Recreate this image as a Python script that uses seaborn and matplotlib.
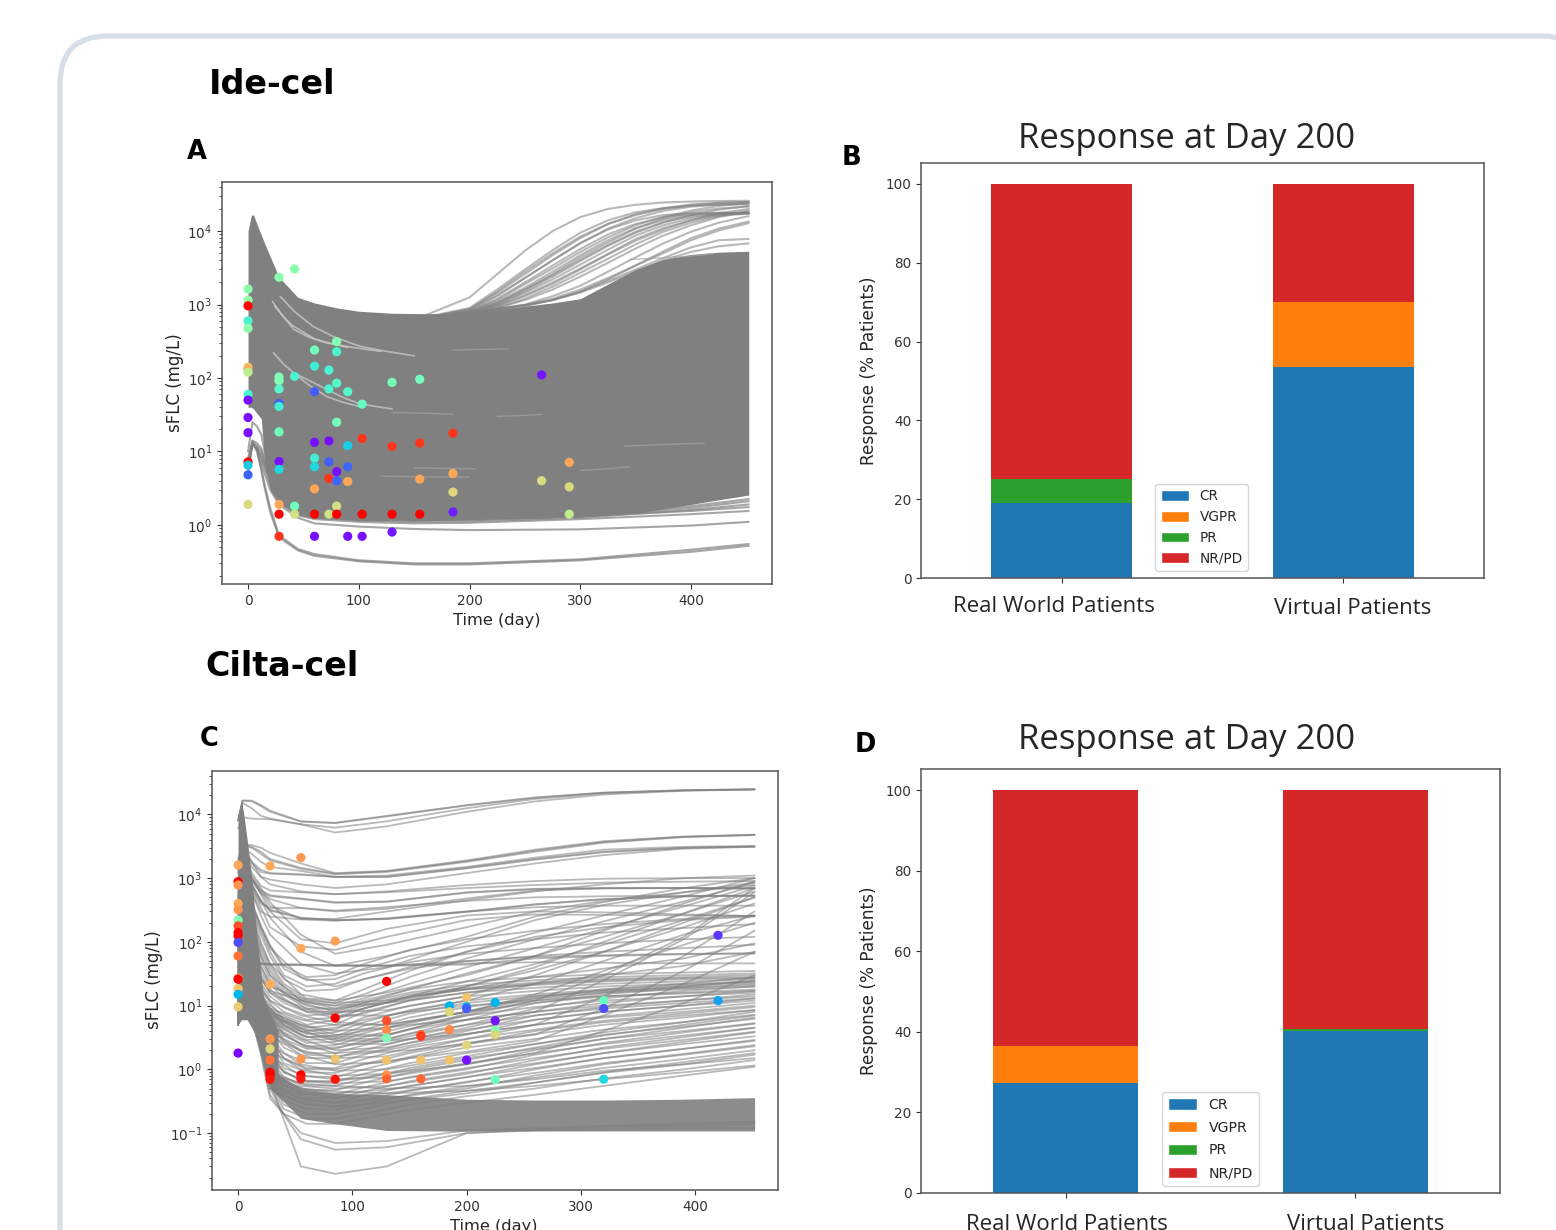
import numpy as np
import pandas as pd
import matplotlib
matplotlib.use('Agg')
import matplotlib.pyplot as plt
import seaborn as sns
from matplotlib.patches import FancyBboxPatch, Patch

W, H = 1556, 1230
GRAY = '#808080'

# ---- Response bars (% patients) ----
BAR_GROUPS = ['Real World Patients', 'Virtual Patients']
BAR_NAMES = ['CR', 'VGPR', 'PR', 'NR/PD']
BAR_COLORS = ['#1f77b4', '#ff7f0e', '#2ca02c', '#d62728']
B_CR = [19.0, 53.5]
B_VGPR = [0.0, 16.5]
B_PR = [6.0, 0.0]
B_NR = [75.0, 30.0]
D_CR = [27.3, 40.3]
D_VGPR = [9.1, 0.0]
D_PR = [0.0, 0.4]
D_NR = [63.6, 59.3]

# ---- Panel A: envelope of the dense bundle ----
A_BAND_T = [0, 3, 5, 8, 12, 15, 20, 28, 45, 60, 80, 100, 130, 160, 200, 250, 275, 300, 325, 350, 375, 400, 425, 452]
A_BAND_UP = [10000, 16500, 16500, 12500, 8800, 6800, 4500, 2350, 1250, 1050, 900, 810, 760, 750, 760, 950, 1050, 1200, 1900, 3000, 4100, 4800, 5150, 5300]
A_BAND_LO = [40, 40, 38, 33, 28, 7, 3, 2, 1.37, 1.23, 1.2, 1.15, 1.15, 1.15, 1.2, 1.22, 1.25, 1.28, 1.36, 1.45, 1.65, 1.9, 2.2, 2.55]

# curves that climb out of the bundle
A_RISE_T = [150, 200, 225, 250, 275, 300, 325, 350, 375, 400, 425, 452]
A_RISE = [
    [620, 1250, 2600, 5400, 10000, 15500, 20000, 22800, 24500, 25200, 25600, 25800],
    [620, 850, 1500, 2800, 5000, 8400, 12500, 16500, 20000, 22500, 24000, 25000],
    [610, 800, 1150, 1900, 3100, 5200, 8200, 12000, 15500, 19000, 22000, 24000],
    [600, 760, 1000, 1500, 2400, 3900, 6300, 9500, 13000, 16500, 19500, 22000],
    [600, 750, 950, 1300, 1900, 3000, 4800, 7400, 10500, 14000, 17500, 20000],
    [600, 740, 900, 1150, 1600, 2400, 3700, 5800, 8700, 12000, 15500, 18500],
    [600, 740, 880, 1000, 1300, 1800, 2800, 4400, 6800, 9800, 13000, 16000],
    [600, 740, 860, 950, 1150, 1500, 2200, 3400, 5300, 8000, 10800, 13500],
    [610, 820, 1300, 2300, 4000, 6900, 10500, 14000, 16500, 17500, 17700, 17800],
    [610, 800, 1200, 2000, 3400, 5700, 9000, 12500, 15500, 17000, 17600, 17700],
    [610, 790, 1100, 1700, 2800, 4700, 7500, 11000, 14200, 16500, 17300, 17600],
    [600, 770, 1050, 1600, 2500, 4100, 6500, 9800, 13300, 15800, 17000, 17500],
    [600, 760, 1000, 1450, 2200, 3500, 5600, 8700, 12000, 15000, 16800, 17400],
    [600, 760, 950, 1350, 2000, 3100, 4900, 7800, 11000, 14000, 16300, 17200],
    [620, 900, 1600, 3000, 5500, 9500, 14000, 18000, 20500, 22000, 22800, 23200],
    [620, 870, 1450, 2600, 4700, 8000, 12500, 17000, 20500, 23000, 24200, 24800],
    [610, 850, 1350, 2300, 4000, 6800, 10800, 15000, 18800, 21500, 23000, 23800],
    [600, 780, 1050, 1600, 2600, 4400, 7000, 10800, 14800, 18000, 20300, 21500],
    [600, 750, 900, 1200, 1750, 2700, 4200, 6600, 9800, 13000, 16000, 19000],
    [600, 740, 860, 980, 1200, 1600, 2300, 3400, 5000, 7500, 10200, 12800],
    [600, 740, 860, 980, 1150, 1500, 2100, 3000, 4300, 6000, 7500, 7800],
    [600, 740, 860, 980, 1150, 1450, 2000, 2800, 4000, 5200, 6200, 6800],
]

# thin bundle under the dense band
A_LOW_T = [0, 4, 8, 12, 15, 20, 28, 45, 60, 100, 150, 200, 300, 400, 452]
A_LOW = [
    [5, 14, 11, 6, 3.5, 1.7, 0.72, 0.47, 0.4, 0.33, 0.3, 0.3, 0.34, 0.46, 0.55],
    [5, 13, 10, 5.5, 3.2, 1.5, 0.68, 0.45, 0.38, 0.32, 0.29, 0.29, 0.33, 0.43, 0.52],
    [6, 13, 11, 7, 5, 3, 1.9, 1.25, 1.05, 0.95, 0.88, 0.85, 0.87, 0.98, 1.1],
    [6, 12.5, 11, 8, 6, 3.5, 2, 1.35, 1.2, 1.1, 1.05, 1.07, 1.2, 1.4, 1.55],
    [7, 13, 11, 9, 6.5, 4, 2.2, 1.4, 1.25, 1.15, 1.1, 1.12, 1.25, 1.6, 1.9],
    [7, 13, 12, 10, 7, 4.3, 2.3, 1.45, 1.3, 1.2, 1.15, 1.17, 1.3, 1.7, 2.1],
    [8, 14, 13, 11, 8, 4.8, 2.4, 1.5, 1.35, 1.22, 1.17, 1.2, 1.35, 1.8, 2.25],
    [10, 25, 22, 17, 10, 5, 2.5, 1.45, 1.3, 1.2, 1.15, 1.2, 1.32, 1.55, 1.75],
]

# pale slivers where the bundle opens up
A_GAPS_PALE = [
    ([22, 30, 41, 55, 71, 95, 120], [1100, 750, 460, 360, 300, 260, 230]),
    ([23, 32, 41, 55, 71, 85, 100], [220, 155, 118, 80, 56, 47, 41]),
    ([29, 42, 59, 78, 101, 125, 150], [1290, 800, 500, 360, 270, 230, 200]),
    ([24, 32, 40, 50, 60, 75, 90], [950, 680, 520, 420, 340, 295, 260]),
    ([45, 58, 71, 85, 100, 115, 130], [110, 88, 70, 55, 45, 41, 38]),
]
A_GAPS_DIM = [
    ([130, 165, 185], [34, 33, 32]),
    ([120, 160, 200], [4.6, 4.5, 4.5]),
    ([150, 170, 205], [6, 5.9, 5.8]),
    ([225, 250, 265], [30, 31, 32]),
    ([185, 215, 235], [240, 245, 250]),
    ([340, 375, 412], [11.8, 12.4, 13]),
    ([300, 330, 345], [5.5, 5.9, 6.2]),
    ([345, 395, 420], [4100, 4500, 4900]),
]

# patient observations: day, sFLC, colour position on the rainbow scale
A_DAY = [0, 0, 0, 0, 0, 0, 0, 0, 0, 0, 0, 0, 0, 0, 0, 0,
         28, 28, 28, 28, 28, 28, 28, 28, 28, 28, 28, 28,
         42, 42, 42, 42,
         60, 60, 60, 60, 60, 60, 60, 60, 60,
         73, 73, 73, 73, 73, 73,
         80, 80, 80, 80, 80, 80, 80, 80,
         90, 90, 90, 90, 90,
         103, 103, 103, 103,
         130, 130, 130, 130,
         155, 155, 155, 155,
         185, 185, 185, 185,
         265, 265, 290, 290, 290]
A_SFLC = [1620, 1150, 960, 600, 475, 140, 130, 120, 60, 50, 29, 18, 7.2, 6.5, 4.8, 1.9,
          2350, 103, 92, 71, 45, 41, 18.5, 7.3, 5.7, 1.9, 1.4, 0.7,
          3050, 105, 1.8, 1.4,
          240, 145, 65, 13.3, 8.1, 6.2, 3.1, 1.4, 0.7,
          128, 71, 13.9, 7.2, 4.3, 1.4,
          313, 228, 85, 25, 5.3, 4, 1.8, 1.4,
          65, 12, 6.2, 3.9, 0.7,
          44, 15, 1.4, 0.7,
          87, 11.7, 1.4, 0.8,
          96, 13, 4.2, 1.4,
          17.7, 5, 2.8, 1.5,
          110, 4, 7.1, 3.3, 1.4]
A_HUE = [0.52, 0.55, 1.0, 0.4, 0.52, 0.72, 0.77, 0.62, 0.4, 0.02, 0.02, 0.02, 1.0, 0.3, 0.13, 0.67,
         0.52, 0.5, 0.5, 0.42, 0.12, 0.38, 0.47, 0.02, 0.32, 0.77, 1.0, 0.93,
         0.52, 0.4, 0.47, 0.65,
         0.48, 0.38, 0.12, 0.02, 0.38, 0.32, 0.77, 1.0, 0.02,
         0.4, 0.4, 0.02, 0.12, 0.93, 0.66,
         0.5, 0.4, 0.42, 0.48, 0.02, 0.13, 0.66, 1.0,
         0.42, 0.3, 0.13, 0.77, 0.02,
         0.45, 0.93, 1.0, 0.02,
         0.48, 0.93, 1.0, 0.03,
         0.47, 0.93, 0.77, 1.0,
         0.93, 0.77, 0.68, 0.04,
         0.03, 0.67, 0.77, 0.67, 0.63]

# ---- Panel C ----
C_BAND1_T = [0, 3, 5, 8, 12, 17, 22, 25, 30, 35]
C_BAND1_UP = [10000, 17000, 10000, 4000, 1000, 100, 15, 10, 6.4, 4]
C_BAND1_LO = [5, 6, 6, 6, 4.5, 3, 1.3, 0.9, 0.5, 0.4]
C_BAND2_T = [28, 55, 85, 130, 200, 260, 320, 390, 452]
C_BAND2_UP = [1, 0.5, 0.42, 0.4, 0.34, 0.33, 0.33, 0.34, 0.36]
C_BAND2_LO = [0.5, 0.17, 0.14, 0.11, 0.107, 0.108, 0.108, 0.108, 0.108]

C_T = [0, 4, 12, 20, 28, 55, 85, 130, 200, 260, 320, 390, 452]
C_CURVES = [
    [8000, 16500, 16500, 14000, 11500, 7800, 7400, 9500, 14000, 18500, 22000, 24000, 24800],
    [8000, 16500, 16000, 13500, 11000, 7700, 7300, 9300, 13800, 18200, 21900, 23900, 24700],
    [8000, 15000, 12500, 9500, 8600, 7000, 6200, 7800, 12500, 17500, 21500, 23800, 24700],
    [6000, 9000, 8600, 8500, 8400, 7000, 5200, 6500, 11000, 16000, 20500, 23500, 24600],
    [2000, 3400, 3300, 3000, 2500, 1700, 1200, 1300, 1900, 2800, 3800, 4500, 4800],
    [1500, 3300, 3000, 2400, 1900, 1400, 1150, 1250, 1800, 2600, 3600, 4400, 4750],
    [1800, 3300, 3100, 2600, 2000, 1450, 1180, 1280, 1850, 2700, 3700, 4450, 4780],
    [1300, 3000, 2400, 1800, 1500, 1300, 1050, 1100, 1500, 2100, 2800, 3100, 3200],
    [1500, 3200, 1800, 1350, 1200, 1150, 1050, 1050, 1450, 2000, 2600, 3000, 3150],
    [1400, 3100, 1700, 1250, 1180, 1130, 1040, 1040, 1420, 1950, 2550, 2980, 3120],
    [1200, 2500, 1500, 1050, 950, 800, 700, 800, 1200, 1700, 2300, 2900, 3100],
    [1000, 3000, 1800, 1050, 800, 620, 560, 620, 780, 900, 980, 1000, 1000],
    [800, 2800, 1200, 760, 640, 600, 560, 600, 700, 780, 850, 880, 900],
    [700, 2400, 1000, 650, 540, 480, 420, 430, 600, 680, 700, 700, 690],
    [680, 2300, 950, 620, 520, 470, 410, 425, 590, 670, 695, 700, 690],
    [600, 2200, 900, 580, 470, 340, 300, 330, 480, 640, 690, 700, 690],
    [500, 2000, 700, 400, 340, 340, 310, 350, 440, 500, 520, 530, 530],
    [500, 2000, 800, 440, 320, 240, 220, 230, 300, 390, 470, 520, 530],
    [490, 1950, 780, 430, 310, 235, 218, 228, 295, 385, 465, 515, 530],
    [400, 1800, 600, 300, 250, 225, 215, 235, 300, 350, 370, 370, 370],
    [350, 1600, 1000, 600, 370, 230, 230, 300, 450, 620, 800, 1000, 1100],
    [300, 1500, 1100, 700, 420, 130, 65, 90, 170, 300, 440, 600, 780],
    [250, 1400, 800, 450, 240, 70, 42, 60, 120, 250, 420, 700, 1000],
    [200, 1200, 600, 260, 130, 45, 32, 40, 100, 220, 380, 600, 850],
    [280, 1500, 1000, 560, 300, 110, 95, 160, 260, 300, 290, 270, 255],
    [220, 1300, 700, 350, 170, 85, 75, 120, 220, 270, 265, 260, 255],
    [150, 900, 400, 170, 80, 28, 20, 32, 70, 120, 170, 220, 250],
    [100, 700, 60, 45, 44, 43, 42, 42, 44, 55, 60, 64, 66],
    [90, 600, 55, 46, 45, 44, 43, 42, 50, 58, 62, 65, 66],
    [85, 580, 54, 45, 44, 44, 43, 43, 46, 48, 47, 46, 46],
    [200, 1000, 300, 100, 45, 15, 12, 16, 30, 60, 150, 400, 900],
    [150, 900, 200, 60, 30, 12, 9, 11, 20, 40, 100, 280, 700],
    [100, 800, 120, 40, 22, 11, 8, 8.5, 14, 30, 70, 200, 500],
    [60, 600, 70, 28, 16, 9, 7, 7, 12, 22, 50, 130, 260],
    [50, 500, 45, 20, 12, 7, 5.5, 5, 8, 15, 35, 90, 200],
    [70, 600, 90, 35, 20, 13, 11, 12, 18, 28, 38, 55, 95],
    [60, 550, 60, 26, 17, 12, 10, 11, 16, 22, 30, 42, 70],
    [25, 200, 22, 12, 9, 6, 5, 5, 8, 13, 18, 22, 28],
    [20, 100, 18, 11, 8, 5, 4, 4.5, 8, 14, 17, 20, 25],
    [15, 80, 16, 10, 8, 5, 3.5, 3.5, 7, 12, 16, 20, 24],
    [12, 60, 14, 9, 7.5, 4, 3, 3, 6, 11, 15, 19, 22],
    [10, 50, 12, 8.5, 7, 4, 2.8, 2.8, 5, 9, 13, 17, 20],
    [9, 45, 12, 8.5, 7.2, 4.5, 3.2, 3.4, 7.5, 12, 14, 15.5, 17],
    [8, 35, 11, 8, 6.5, 3.5, 2.5, 2.5, 4.5, 8, 11, 14, 17],
    [7, 30, 10, 7.5, 6, 3, 2, 2.2, 4, 7, 9.5, 12, 15],
    [6, 25, 9, 7, 5, 2.5, 1.8, 2, 3.5, 6, 8, 10, 13],
    [5, 22, 8.5, 6.5, 4, 2, 1.5, 1.6, 3, 5, 6.5, 8, 10],
    [5, 20, 8, 6, 3.5, 1.7, 1.2, 1.3, 2.5, 4, 5.5, 7, 8.5],
    [8, 40, 9, 5, 2.5, 1.2, 0.95, 1.0, 1.6, 2.5, 3.8, 5.5, 8],
    [9, 50, 9, 4.5, 2, 1, 0.8, 0.85, 1.4, 2.2, 3.4, 5, 7],
    [10, 60, 9, 4, 1.6, 0.8, 0.7, 0.75, 1.2, 2, 3, 4.5, 6.5],
    [12, 80, 9, 3.5, 1.3, 0.65, 0.6, 0.65, 1, 1.7, 2.6, 3.8, 5.2],
    [8, 40, 8, 3, 1, 0.55, 0.5, 0.55, 0.85, 1.4, 2.2, 3.2, 4.5],
    [7, 35, 8, 2.8, 0.9, 0.5, 0.42, 0.48, 0.75, 1.2, 1.8, 2.7, 3.8],
    [6, 30, 7, 2.4, 0.75, 0.42, 0.36, 0.42, 0.62, 1, 1.5, 2.1, 2.9],
    [6, 30, 7, 2.2, 0.6, 0.35, 0.3, 0.35, 0.5, 0.8, 1.2, 1.7, 2.3],
    [5, 25, 7, 2, 0.5, 0.3, 0.26, 0.3, 0.42, 0.62, 0.9, 1.3, 1.8],
    [6, 28, 7, 2.6, 0.85, 0.6, 0.55, 0.5, 0.55, 0.7, 0.95, 1.2, 1.5],
    [6, 28, 7, 2.5, 0.8, 0.5, 0.45, 0.42, 0.46, 0.55, 0.7, 0.9, 1.15],
    [5, 25, 6.5, 2, 0.63, 0.03, 0.023, 0.03, 0.1, 0.11, 0.115, 0.12, 0.12],
    [5, 25, 6.5, 1.8, 0.4, 0.08, 0.055, 0.06, 0.1, 0.115, 0.125, 0.13, 0.14],
    [5, 25, 6.5, 1.7, 0.35, 0.1, 0.07, 0.075, 0.11, 0.12, 0.13, 0.14, 0.15],
]

# second batch on a finer grid: the mid range and the late diagonals
C2_T = [0, 4, 12, 20, 28, 40, 60, 85, 110, 150, 200, 260, 320, 390, 452]
C2_CURVES = [
    [120, 800, 250, 90, 45, 22, 13, 12, 18, 35, 70, 140, 260, 520, 1000],
    [110, 750, 220, 80, 40, 20, 12, 11, 15, 28, 55, 110, 210, 430, 850],
    [100, 700, 180, 70, 35, 18, 11, 10, 13, 22, 40, 80, 160, 360, 760],
    [90, 650, 160, 60, 30, 16, 10, 8.5, 11, 18, 32, 60, 120, 280, 620],
    [80, 600, 140, 50, 26, 15, 9, 7.5, 9, 14, 24, 45, 90, 220, 500],
    [70, 550, 110, 42, 22, 13, 8, 6.5, 7.5, 12, 20, 36, 70, 170, 400],
    [200, 1000, 420, 180, 90, 42, 28, 30, 45, 75, 110, 150, 190, 230, 260],
    [180, 950, 400, 170, 85, 38, 25, 26, 38, 60, 85, 110, 140, 165, 190],
    [160, 900, 360, 150, 70, 30, 20, 22, 32, 48, 65, 80, 95, 110, 120],
    [140, 850, 320, 130, 60, 26, 17, 18, 26, 38, 50, 60, 70, 80, 90],
    [50, 500, 60, 30, 18, 12, 9, 9, 12, 18, 24, 28, 31, 33, 35],
    [45, 450, 50, 26, 16, 11, 8, 8, 11, 16, 21, 25, 28, 30, 32],
    [40, 420, 44, 22, 14, 9.5, 7, 7.5, 10, 15, 19, 23, 26, 28, 30],
    [35, 400, 38, 18, 12, 8, 6, 6.5, 9, 14, 18, 22, 25, 27, 28],
    [30, 300, 30, 15, 10, 7, 5, 6, 9, 14, 18, 21, 24, 26, 27],
    [28, 260, 28, 14, 9, 6, 4.5, 5, 8, 12, 16, 19, 22, 24, 26],
    [24, 200, 22, 12, 9, 5.5, 4, 4.2, 6.5, 10, 14, 17, 20, 22, 24],
    [20, 160, 18, 11, 8.5, 5, 3.6, 3.8, 5.5, 8.5, 12, 15, 18, 21, 23],
    [18, 140, 16, 10, 8, 4.6, 3.2, 3.3, 4.8, 7.5, 11, 14, 17, 19, 21],
    [16, 110, 14, 9.5, 7.5, 4.2, 2.9, 3, 4.2, 6.5, 9.5, 13, 16, 18, 20],
    [14, 90, 13, 9, 7, 3.8, 2.6, 2.7, 3.7, 5.5, 8, 11, 14, 16, 18],
    [12, 70, 12, 8.5, 6.5, 3.4, 2.3, 2.4, 3.2, 4.8, 7, 9.5, 12, 14, 16],
    [11, 60, 11, 8, 6, 3, 2.1, 2.1, 2.8, 4.2, 6, 8, 10, 12, 14],
    [10, 55, 10, 7.5, 5, 2.6, 1.8, 1.8, 2.4, 3.6, 5, 7, 9, 11, 13],
    [9, 50, 10, 7, 4.2, 2.2, 1.5, 1.5, 2, 3, 4.2, 6, 8, 10, 12],
    [9, 45, 9, 6, 3.5, 1.8, 1.25, 1.25, 1.7, 2.6, 3.6, 5, 6.8, 8.8, 11],
    [8, 40, 9, 5.5, 3, 1.5, 1.05, 1.05, 1.45, 2.2, 3, 4.2, 5.8, 7.5, 9.5],
    [8, 40, 9, 5, 2.5, 1.25, 0.9, 0.88, 1.2, 1.8, 2.6, 3.6, 5, 6.5, 8.5],
    [7, 35, 8, 4.5, 2.1, 1.05, 0.78, 0.75, 1, 1.5, 2.2, 3, 4.2, 5.5, 7.2],
    [7, 32, 8, 4, 1.8, 0.9, 0.66, 0.64, 0.85, 1.25, 1.8, 2.5, 3.5, 4.7, 6.2],
    [7, 30, 8, 3.5, 1.5, 0.75, 0.56, 0.55, 0.72, 1.05, 1.5, 2.1, 3, 4, 5.3],
    [6, 30, 7.5, 3.2, 1.3, 0.65, 0.48, 0.47, 0.62, 0.9, 1.25, 1.8, 2.5, 3.4, 4.5],
    [6, 28, 7.5, 3, 1.1, 0.56, 0.42, 0.4, 0.52, 0.76, 1.05, 1.5, 2.1, 2.9, 3.9],
    [6, 28, 7, 2.8, 1, 0.5, 0.36, 0.35, 0.45, 0.65, 0.9, 1.25, 1.8, 2.5, 3.3],
    [6, 26, 7, 2.6, 0.9, 0.44, 0.32, 0.3, 0.39, 0.55, 0.76, 1.05, 1.5, 2.1, 2.8],
    [5, 25, 7, 2.4, 0.8, 0.38, 0.28, 0.26, 0.33, 0.46, 0.64, 0.88, 1.25, 1.75, 2.4],
    [5, 25, 7, 2.3, 0.7, 0.33, 0.24, 0.23, 0.28, 0.4, 0.54, 0.74, 1.05, 1.45, 2],
    [5, 25, 6.5, 2.2, 0.62, 0.28, 0.2, 0.2, 0.24, 0.34, 0.46, 0.62, 0.88, 1.2, 1.7],
    [5, 25, 6.5, 2.1, 0.56, 0.24, 0.17, 0.17, 0.2, 0.28, 0.38, 0.5, 0.72, 1, 1.4],
    [5, 25, 6.5, 2, 0.5, 0.2, 0.14, 0.14, 0.17, 0.23, 0.3, 0.4, 0.55, 0.8, 1.1],
    [40, 400, 40, 18, 11, 6, 4, 4.5, 6, 8, 10, 12, 30, 120, 700],
    [30, 300, 30, 14, 9, 5, 3.2, 3.4, 4, 5, 6, 8, 25, 110, 600],
    [20, 150, 18, 10, 7, 3.5, 2.2, 2.2, 2.6, 3, 3.6, 5, 14, 60, 300],
    [15, 100, 14, 9, 6, 2.8, 1.7, 1.6, 1.8, 2, 2.5, 3.5, 9, 35, 150],
    [12, 70, 11, 7, 3, 1.5, 1, 1, 1.2, 1.5, 1.9, 2.8, 7, 22, 70],
    [10, 55, 9, 5, 2, 0.9, 0.65, 0.65, 0.75, 0.95, 1.2, 1.8, 4, 11, 30],
]

C_DAY = [0, 0, 0, 0, 0, 0, 0, 0, 0, 0, 0, 0, 0, 0, 0, 0, 0,
         28, 28, 28, 28, 28, 28, 28, 28,
         55, 55, 55, 55, 55,
         85, 85, 85, 85,
         130, 130, 130, 130, 130, 130, 130,
         160, 160, 160, 160,
         185, 185, 185, 185,
         200, 200, 200, 200, 200,
         225, 225, 225, 225, 225,
         320, 320, 320,
         420, 420]
C_SFLC = [1600, 880, 780, 400, 320, 220, 178, 140, 125, 98, 60, 27, 26, 18.5, 15, 9.6, 1.8,
          1550, 21.6, 3, 2.1, 1.4, 0.9, 0.8, 0.7,
          2100, 79, 1.45, 0.82, 0.71,
          103, 6.4, 1.47, 0.7,
          24, 5.8, 4.2, 3.1, 1.4, 0.82, 0.71,
          3.5, 3.3, 1.4, 0.71,
          9.9, 8, 4.2, 1.4,
          13.4, 9.6, 9, 2.4, 1.4,
          11.2, 5.8, 4.1, 3.5, 0.69,
          12, 9, 0.7,
          127, 12]
C_HUE = [0.77, 1.0, 0.8, 0.77, 0.8, 0.5, 0.9, 1.0, 1.0, 0.1, 0.85, 0.77, 1.0, 0.72, 0.25, 0.7, 0.0,
         0.77, 0.76, 0.8, 0.68, 0.85, 1.0, 1.0, 0.97,
         0.8, 0.77, 0.8, 1.0, 0.97,
         0.78, 1.0, 0.72, 0.98,
         1.0, 0.9, 0.82, 0.5, 0.72, 0.8, 0.87,
         0.88, 0.92, 0.72, 0.87,
         0.25, 0.68, 0.82, 0.72,
         0.72, 0.25, 0.12, 0.68, 0.02,
         0.25, 0.03, 0.5, 0.68, 0.47,
         0.45, 0.1, 0.32,
         0.07, 0.22]

sns.set_style('ticks')
plt.rcParams['font.family'] = 'DejaVu Sans'
plt.rcParams['axes.edgecolor'] = '#555555'
plt.rcParams['axes.linewidth'] = 1.1
plt.rcParams['text.color'] = '#262626'
plt.rcParams['axes.labelcolor'] = '#262626'
plt.rcParams['xtick.color'] = '#333333'
plt.rcParams['ytick.color'] = '#333333'


def box(left, top, right, bottom):
    return [left / W, 1 - bottom / H, (right - left) / W, (bottom - top) / H]


def long_curves(t, curves):
    rows = [pd.DataFrame({'t': t, 'y': c, 'curve': i}) for i, c in enumerate(curves)]
    return pd.concat(rows, ignore_index=True)


def sflc_axes(rect, xlim, ylim):
    ax = fig.add_axes(box(*rect))
    ax.set_yscale('log')
    ax.set_xlim(*xlim)
    ax.set_ylim(*ylim)
    ax.set_xticks([0, 100, 200, 300, 400])
    ax.yaxis.set_major_locator(matplotlib.ticker.LogLocator(base=10, numticks=12))
    ax.yaxis.set_minor_locator(matplotlib.ticker.LogLocator(base=10, subs=np.arange(2, 10), numticks=12))
    ax.yaxis.set_minor_formatter(matplotlib.ticker.NullFormatter())
    ax.tick_params(axis='both', which='major', labelsize=9.8, length=3.5, width=0.8)
    ax.tick_params(axis='y', which='minor', length=2, width=0.6)
    return ax


def draw_curves(ax, t, curves, alpha=0.55, lw=1.5):
    sns.lineplot(data=long_curves(t, curves), x='t', y='y', units='curve', estimator=None,
                 color=GRAY, alpha=alpha, lw=lw, ax=ax, legend=False)


def draw_points(ax, days, values, hues):
    sns.scatterplot(x=days, y=values, hue=hues, palette='rainbow', hue_norm=(0, 1), s=44,
                    linewidth=0, legend=False, zorder=5, ax=ax)
    ax.set(xlabel='', ylabel='')


def response_bars(rect, series, legend_pos, legend_size, spacing):
    ax = fig.add_axes(box(*rect))
    bottom = np.zeros(2)
    for name, color, vals in zip(BAR_NAMES, BAR_COLORS, series):
        sns.barplot(x=BAR_GROUPS, y=vals, bottom=bottom, color=color, saturation=1, width=0.5,
                    linewidth=0, label=name, ax=ax)
        bottom = bottom + np.array(vals)
    ax.set_xlim(-0.5, 1.5)
    ax.set_ylim(0, 105.3)
    ax.set_yticks([0, 20, 40, 60, 80, 100])
    ax.set_xticks([0, 1])
    ax.set_xticklabels(['', ''])
    ax.tick_params(axis='both', labelsize=9.8, length=3.5, width=0.8)
    ax.set_ylabel('')
    handles = [Patch(facecolor=c, label=n) for n, c in zip(BAR_NAMES, BAR_COLORS)]
    ax.legend(handles=handles, loc='lower left', bbox_to_anchor=legend_pos, borderaxespad=0,
              fontsize=legend_size, frameon=True, framealpha=0.8, edgecolor='#cccccc',
              labelspacing=spacing, handlelength=2.05, handleheight=0.85)
    return ax


fig = plt.figure(figsize=(W / 100, H / 100), dpi=100, facecolor='white')

# page overlay in pixel units: rounded frame and the text laid over the panels
page = fig.add_axes([0, 0, 1, 1], zorder=-1)
page.set_xlim(0, W)
page.set_ylim(H, 0)
page.axis('off')
page.add_patch(FancyBboxPatch((60, 36), 1530, 1400, boxstyle='round,pad=0,rounding_size=48',
                              facecolor='white', edgecolor='#d6dfe7', lw=3.8))

# A
ax_a = sflc_axes((222, 182, 772, 584), (-23.5, 473), (0.157, 46500))
ax_a.fill_between(A_BAND_T, A_BAND_LO, A_BAND_UP, color=GRAY, lw=0)
draw_curves(ax_a, A_RISE_T, A_RISE)
draw_curves(ax_a, A_LOW_T, A_LOW, alpha=0.7)
for gap_t, gap_y in A_GAPS_PALE:
    sns.lineplot(x=gap_t, y=gap_y, color='#c8c8c8', lw=1.2, alpha=0.8, ax=ax_a, legend=False)
for gap_t, gap_y in A_GAPS_DIM:
    sns.lineplot(x=gap_t, y=gap_y, color='#a4a4a4', lw=1.0, alpha=0.7, ax=ax_a, legend=False)
draw_points(ax_a, A_DAY, A_SFLC, A_HUE)

# B
response_bars((921, 163, 1484, 578), [B_CR, B_VGPR, B_PR, B_NR], (0.416, 0.017), 9.8, 0.5)

# C
ax_c = sflc_axes((212, 771, 778, 1190), (-22.8, 472.5), (0.0128, 48000))
ax_c.fill_between(C_BAND1_T, C_BAND1_LO, C_BAND1_UP, color=GRAY, lw=0)
ax_c.fill_between(C_BAND2_T, C_BAND2_LO, C_BAND2_UP, color=GRAY, lw=0, alpha=0.9)
draw_curves(ax_c, C_T, C_CURVES, alpha=0.55, lw=1.3)
draw_curves(ax_c, C2_T, C2_CURVES, alpha=0.55, lw=1.3)
draw_points(ax_c, C_DAY, C_SFLC, C_HUE)

# D
response_bars((921, 769, 1500, 1193), [D_CR, D_VGPR, D_PR, D_NR], (0.417, 0.017), 10.2, 0.62)

# headings and labels
heavy = dict(fontweight='bold', color='black', va='center', ha='left')
page.text(209, 85, 'Ide-cel', fontsize=24, **heavy)
page.text(205, 666, 'Cilta-cel', fontsize=24, **heavy)
for letter, lx, ly in [('A', 187, 152), ('B', 842, 158), ('C', 200, 739), ('D', 855, 745)]:
    page.text(lx, ly, letter, fontsize=18.5, **heavy)

body = dict(fontfamily='Open Sans', color='#262626', ha='center', va='center')
page.text(1187, 139, 'Response at Day 200', fontsize=25, **body)
page.text(1187, 740, 'Response at Day 200', fontsize=25, **body)
page.text(1054, 607, BAR_GROUPS[0], fontsize=16, **body)
page.text(1353, 608, BAR_GROUPS[1], fontsize=16, **body)
page.text(1067, 1225, BAR_GROUPS[0], fontsize=16, **body)
page.text(1366, 1225, BAR_GROUPS[1], fontsize=16, **body)

label = dict(color='#262626', ha='center', va='center')
page.text(497, 620, 'Time (day)', fontsize=11.7, **label)
page.text(494, 1226, 'Time (day)', fontsize=11.7, **label)
page.text(175, 383, 'sFLC (mg/L)', rotation=90, fontsize=12, **label)
page.text(154, 980, 'sFLC (mg/L)', rotation=90, fontsize=12, **label)
page.text(869, 371, 'Response (% Patients)', rotation=90, fontsize=12.2, **label)
page.text(869, 981, 'Response (% Patients)', rotation=90, fontsize=12.2, **label)

fig.savefig('out.png', dpi=100)
